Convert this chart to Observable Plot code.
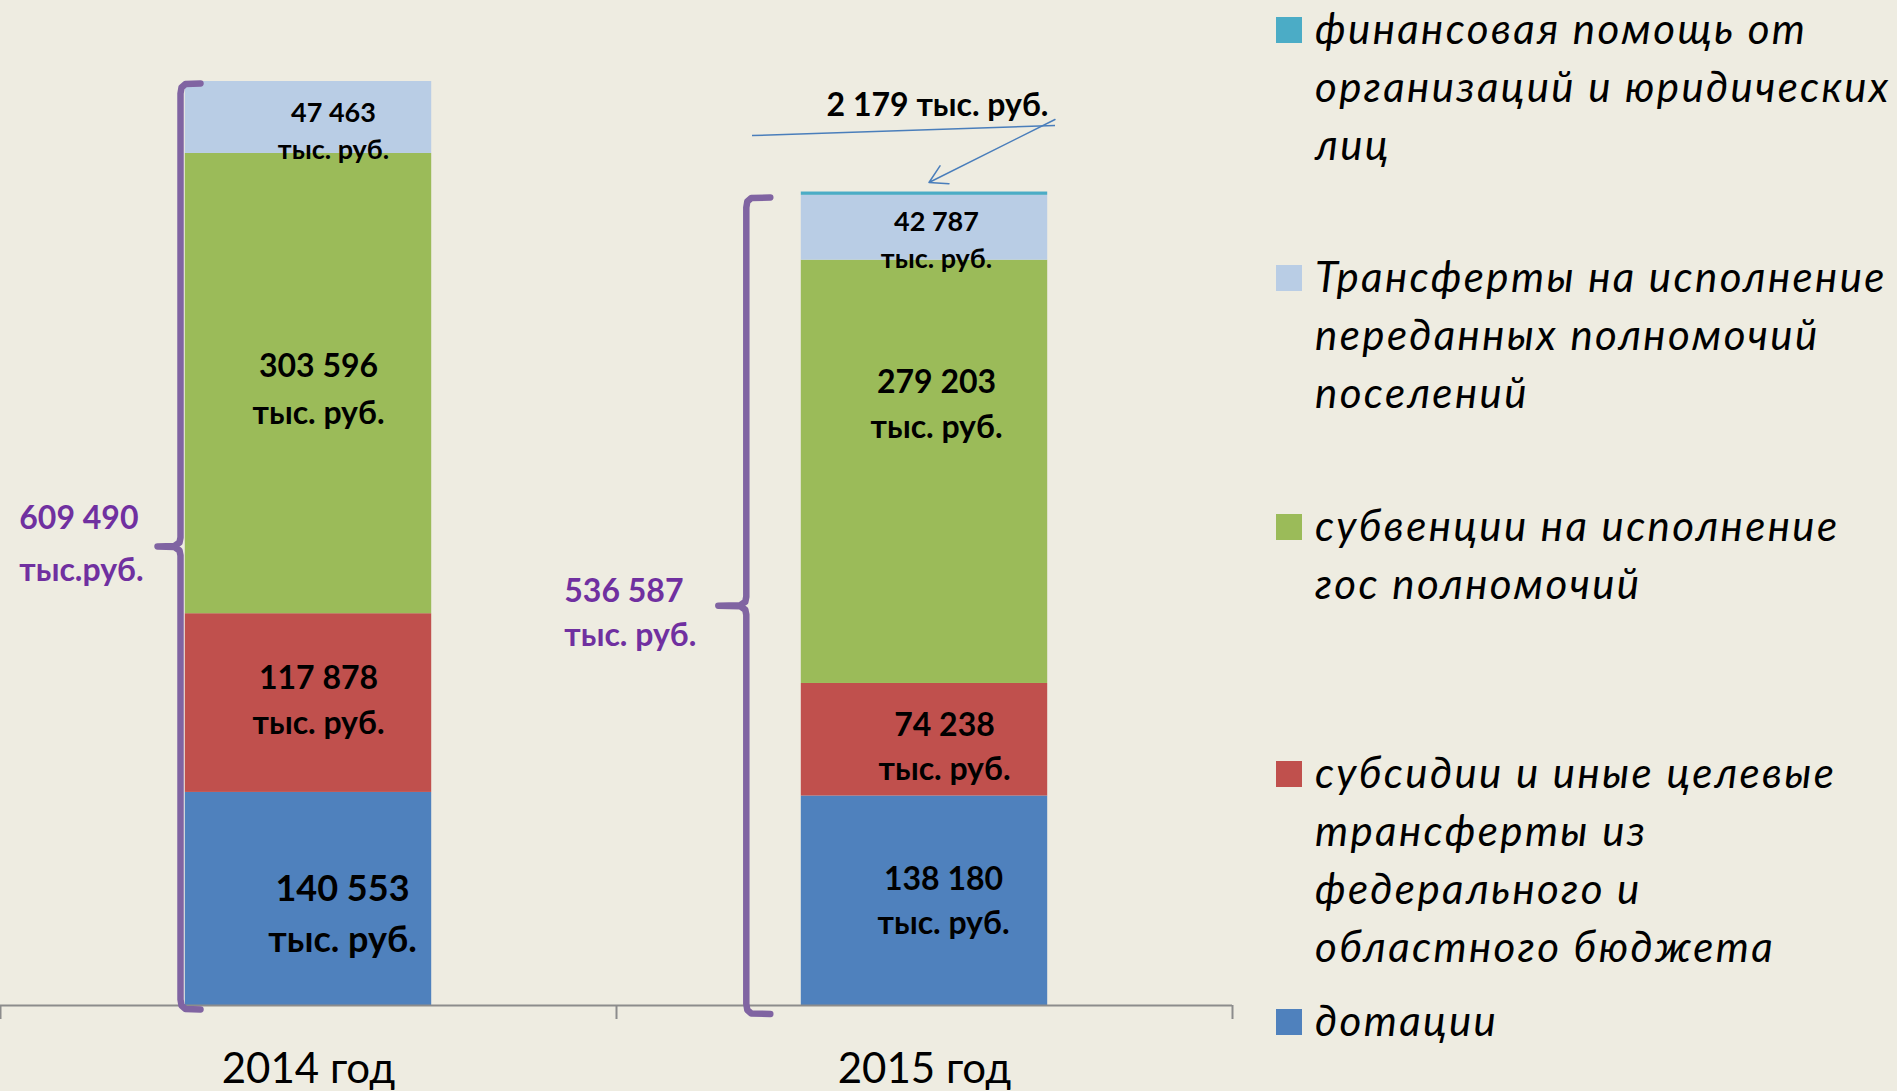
<!DOCTYPE html>
<html><head><meta charset="utf-8">
<script src="https://cdn.jsdelivr.net/npm/d3@7"></script>
<script src="https://cdn.jsdelivr.net/npm/@observablehq/plot@0.6"></script>
<style>
html,body{margin:0;padding:0;background:#EEECE1;}
#wrap{position:relative;width:1897px;height:1091px;overflow:hidden;font-family:Lato,"Open Sans",sans-serif;background:#EEECE1;}
#chart{position:absolute;left:0;top:0;}
#legend{position:absolute;left:1276px;top:0;width:621px;height:1091px;}
.item{position:absolute;left:0;white-space:nowrap;}
.sw{position:absolute;left:0;top:16px;width:26px;height:26px;}
.lbl{position:absolute;left:39px;top:-2px;font-style:italic;font-size:42px;letter-spacing:2.4px;line-height:58px;color:#000;}
</style></head><body>
<div id="wrap"><div id="chart"></div><div id="legend"></div></div>
<script>
// ---------- data ----------
const years = ["2014 год", "2015 год"];
const legendLines = [
  ["дотации"],
  ["субсидии и иные целевые", "трансферты из", "федерального и", "областного бюджета"],
  ["субвенции на исполнение", "гос полномочий"],
  ["Трансферты на исполнение", "переданных полномочий", "поселений"],
  ["финансовая помощь от", "организаций и юридических", "лиц"]
];
const categories = legendLines.map(l => l.join(" "));
const dotacii    = [140553, 138180];
const subsidii   = [117878, 74238];
const subvencii  = [303596, 279203];
const transferty = [47463, 42787];
const finPomosh  = [0, 2179];
const totalUnits = ["тыс.руб.", "тыс. руб."];
const unit = "тыс. руб.";

// ---------- styles ----------
const series = [dotacii, subsidii, subvencii, transferty, finPomosh];
const colors = ["#4F81BD", "#C0504D", "#9BBB59", "#B9CDE5", "#4BACC6"];
const purple = "#7030A0", braceColor = "#8064A2", arrowColor = "#4A7EBB", axisColor = "#8C8C8C";

const rows = [];
years.forEach((year, i) => {
  let acc = 0;
  categories.forEach((cat, j) => {
    const v = series[j][i];
    rows.push({year, i, cat, j, value: v, lo: acc, hi: acc + v});
    acc += v;
  });
});
const totals = years.map((_, i) => d3.sum(series, s => s[i]));
const fmt = d3.formatLocale({decimal: ",", thousands: " ", grouping: [3], currency: ["", ""]}).format(",d");

// ---------- layout ----------
const W = 1897, H = 1091, plotW = 1232, marginTop = 81, marginBottom = 86;
const X = d3.scaleLinear([0, 2], [0, plotW]);
const Y = d3.scaleLinear([0, d3.max(totals)], [H - marginBottom, marginTop]);

const labelLayout = {
  "0-0": {dx: 34, dy: 11, size: 36, lh: 1.44},
  "0-1": {dx: 10, dy: -6, size: 32, lh: 1.42},
  "0-2": {dx: 10, dy: 2, size: 32, lh: 1.45},
  "0-3": {dx: 25, dy: 11, size: 27, lh: 1.4},
  "1-0": {dx: 19, dy: -3, size: 32, lh: 1.4},
  "1-1": {dx: 20, dy: 4, size: 32, lh: 1.4},
  "1-2": {dx: 12, dy: -71, size: 32, lh: 1.42},
  "1-3": {dx: 12, dy: 10, size: 27, lh: 1.36}
};
const segLabels = rows.filter(r => labelLayout[`${r.i}-${r.j}`]).map(r => {
  const L = labelLayout[`${r.i}-${r.j}`];
  return Plot.text([r], {
    x: d => d.i + 0.5, y: d => (d.lo + d.hi) / 2,
    text: d => fmt(d.value) + "\n" + unit,
    dx: L.dx, dy: L.dy, fontSize: L.size, fontWeight: "bold", fill: "#000", lineHeight: L.lh
  });
});

// braces (pixel tweaks relative to bar edges)
const braceGeom = [
  {off: -4.8, topAdj: 2, botAdj: 4, hook: 20, notch: 23},
  {off: -55, topAdj: 5.5, botAdj: 8.5, hook: 24, notch: 28}
];
const bracePts = [];
years.forEach((year, i) => {
  const g = braceGeom[i];
  const xv = X(i + 0.3) + g.off;
  const top = Y(totals[i]) + g.topAdj, bot = Y(0) + g.botAdj, mid = (top + bot) / 2;
  const pts = [
    [xv + g.hook, top], [xv + 5, top + 0.5], [xv + 1, top + 4], [xv, top + 10],
    [xv, mid - 9], [xv - 1, mid - 4], [xv - 6, mid - 0.5], [xv - g.notch, mid],
    [xv - 6, mid + 0.5], [xv - 1, mid + 4], [xv, mid + 9],
    [xv, bot - 10], [xv + 1, bot - 4], [xv + 5, bot - 0.5], [xv + g.hook, bot]
  ];
  pts.forEach(([px, py]) => bracePts.push({year, x: X.invert(px), y: Y.invert(py)}));
});

const totalLayout = [{dx: -166, dy: -5, lh: 1.62}, {dx: -237, dy: 11, lh: 1.38}];
const totalLabels = years.map((year, i) => Plot.text([{i, t: totals[i]}], {
  x: d => d.i + 0.3, y: d => d.t / 2,
  text: d => fmt(d.t) + "\n" + totalUnits[d.i],
  textAnchor: "start", dx: totalLayout[i].dx, dy: totalLayout[i].dy,
  fontSize: 32, fontWeight: "bold", fill: purple, lineHeight: totalLayout[i].lh
}));

// callout for the tiny segment
const tiny = rows.filter(r => r.j === 4 && r.value > 0);
const tipPx = r => [X(r.i + 0.5) + 4.5, Y(r.hi) - 9.5];
const arrowData = tiny.map(r => {
  const [tx, ty] = tipPx(r);
  return {x1: X.invert(tx + 126), y1: Y.invert(ty - 63), x2: X.invert(tx), y2: Y.invert(ty)};
});
const leaderData = tiny.map(r => {
  const [tx, ty] = tipPx(r);
  return {x1: X.invert(tx - 177), y1: Y.invert(ty - 47), x2: X.invert(tx + 126), y2: Y.invert(ty - 57)};
});

const chart = Plot.plot({
  width: W, height: H,
  marginLeft: 0, marginRight: W - plotW, marginTop, marginBottom,
  x: {domain: [0, 2]},
  y: {domain: [0, d3.max(totals)], axis: null},
  color: {domain: categories, range: colors},
  style: {background: "transparent", fontFamily: "Lato, 'Open Sans', sans-serif", overflow: "visible", color: "#000"},
  marks: [
    Plot.rectY(rows, Plot.stackY({x: "i", x1: d => d.i + 0.3, x2: d => d.i + 0.7, y: "value", fill: "cat"})),
    Plot.ruleY([0], {stroke: axisColor, strokeWidth: 2}),
    Plot.axisX({ticks: [0, 1, 2], tickSize: 14, tickFormat: () => "", stroke: axisColor, strokeWidth: 2, label: null}),
    Plot.axisX({ticks: years.map((_, i) => i + 0.5), tickSize: 0, tickPadding: 48,
      tickFormat: d => years[Math.floor(d)], fontSize: 42, fill: "#000", label: null}),
    Plot.line(bracePts, {x: "x", y: "y", z: "year", stroke: braceColor, strokeWidth: 6.5, strokeLinejoin: "round", curve: "linear"}),
    ...segLabels,
    ...totalLabels,
    Plot.link(leaderData, {x1: "x1", y1: "y1", x2: "x2", y2: "y2", stroke: arrowColor, strokeWidth: 1.5}),
    Plot.arrow(arrowData, {x1: "x1", y1: "y1", x2: "x2", y2: "y2", stroke: arrowColor, strokeWidth: 1.5, headLength: 20, headAngle: 60}),
    Plot.text(tiny, {x: d => d.i + 0.5, y: "hi", text: d => fmt(d.value) + " " + unit,
      dx: 13, dy: -86, fontSize: 32, fontWeight: "bold", fill: "#000"})
  ]
});
document.getElementById("chart").appendChild(chart);

// legend (HTML, to the right of the plot)
const legendTops = [993, 745, 498, 249, 1];
const legend = document.getElementById("legend");
categories.forEach((cat, j) => {
  const item = document.createElement("div");
  item.className = "item";
  item.style.top = legendTops[j] + "px";
  item.innerHTML = `<div class="sw" style="background:${colors[j]}"></div><div class="lbl">${legendLines[j].join("<br>")}</div>`;
  legend.appendChild(item);
});
</script>
</body></html>
